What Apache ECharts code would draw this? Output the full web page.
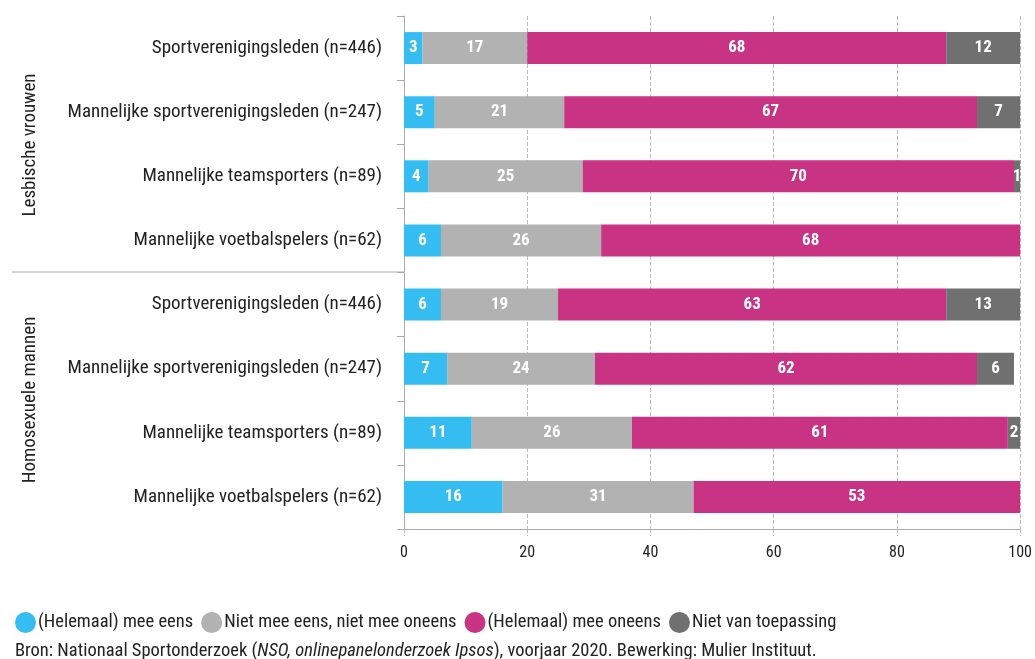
<!DOCTYPE html>
<html>
<head>
<meta charset="utf-8">
<script src="https://cdn.jsdelivr.net/npm/echarts@6/dist/echarts.min.js"></script>
<style>
  html, body { margin: 0; padding: 0; background: #fff; }
  #chart { width: 1035px; height: 659px; }
</style>
</head>
<body>
<div id="chart"></div>
<script>
// rows top to bottom: first four = Lesbische vrouwen, last four = Homosexuele mannen
var categories = [
  'Sportverenigingsleden (n=446)',
  'Mannelijke sportverenigingsleden (n=247)',
  'Mannelijke teamsporters (n=89)',
  'Mannelijke voetbalspelers (n=62)',
  'Sportverenigingsleden (n=446)',
  'Mannelijke sportverenigingsleden (n=247)',
  'Mannelijke teamsporters (n=89)',
  'Mannelijke voetbalspelers (n=62)'
];
var meeEens = [3, 5, 4, 6, 6, 7, 11, 16];
var neutraal = [17, 21, 25, 26, 19, 24, 26, 31];
var meeOneens = [68, 67, 70, 68, 63, 62, 61, 53];
var nietVanToepassing = [12, 7, 1, 0, 13, 6, 2, 0];
var xTicks = [0, 20, 40, 60, 80, 100];

var font = '"Roboto Condensed", "Liberation Sans Narrow", "DejaVu Sans Condensed", Roboto, sans-serif';
var textColor = '#222';

var chartDom = document.getElementById('chart');
var myChart = echarts.init(chartDom);

// unique y values so the repeated labels stay separate rows
var rowKeys = categories.map(function (c, i) { return i + '|' + c; });

function makeSeries(name, data, color) {
  return {
    name: name,
    type: 'bar',
    stack: 'total',
    barWidth: 32,
    itemStyle: { color: color },
    label: {
      show: true,
      color: '#fff',
      fontFamily: font,
      fontWeight: 'bold',
      fontSize: 17,
      formatter: function (p) { return p.value > 0 ? p.value : ''; }
    },
    data: data
  };
}

var option = {
  animation: false,
  textStyle: { fontFamily: font },
  grid: { left: 404, right: 14, top: 16, bottom: 130 },
  legend: {
    left: 10,
    top: 607,
    icon: 'circle',
    itemWidth: 21,
    itemHeight: 21,
    itemGap: 8,
    selectedMode: false,
    textStyle: { fontFamily: font, fontSize: 18.5, color: textColor, padding: [0, 0, 0, -3] }
  },
  title: {
    left: 10,
    top: 637,
    text: '{n|Bron: Nationaal Sportonderzoek (}{i|NSO, onlinepanelonderzoek Ipsos}{n|), voorjaar 2020. Bewerking: Mulier Instituut.}',
    textStyle: {
      fontWeight: 'normal',
      rich: {
        n: { fontFamily: font, fontSize: 18.5, fontWeight: 'normal', color: textColor },
        i: { fontFamily: font, fontSize: 18.5, fontWeight: 'normal', color: textColor, fontStyle: 'italic' }
      }
    }
  },
  xAxis: {
    type: 'value',
    min: 0,
    max: 100,
    interval: 20,
    axisLine: { show: true, lineStyle: { color: '#aaa' } },
    axisTick: { show: true, length: 7, lineStyle: { color: '#bbb', type: 'dashed' } },
    axisLabel: {
      fontFamily: font, fontSize: 16, color: textColor, margin: 16,
      formatter: function (v) { return xTicks.indexOf(v) >= 0 ? v : ''; }
    },
    splitLine: { show: true, lineStyle: { color: '#bbb', type: 'dashed' } }
  },
  yAxis: {
    type: 'category',
    inverse: true,
    data: rowKeys,
    axisLine: { show: true, lineStyle: { color: '#aaa' } },
    axisTick: { show: true, length: 7, lineStyle: { color: '#aaa' } },
    axisLabel: {
      fontFamily: font, fontSize: 19, color: textColor, margin: 22,
      formatter: function (v) { return v.split('|')[1]; }
    }
  },
  graphic: [
    {
      type: 'line',
      shape: { x1: 12, y1: 272, x2: 404, y2: 272 },
      style: { stroke: '#aaa', lineWidth: 1 }
    },
    {
      type: 'text',
      x: 30, y: 145, rotation: Math.PI / 2,
      style: { text: 'Lesbische vrouwen', font: '19px ' + font, fill: textColor, align: 'center', verticalAlign: 'middle' }
    },
    {
      type: 'text',
      x: 30, y: 400, rotation: Math.PI / 2,
      style: { text: 'Homosexuele mannen', font: '19px ' + font, fill: textColor, align: 'center', verticalAlign: 'middle' }
    }
  ],
  series: [
    makeSeries('(Helemaal) mee eens', meeEens, '#35bdf2'),
    makeSeries('Niet mee eens, niet mee oneens', neutraal, '#b2b2b2'),
    makeSeries('(Helemaal) mee oneens', meeOneens, '#c93384'),
    makeSeries('Niet van toepassing', nietVanToepassing, '#707070')
  ]
};

myChart.setOption(option);
</script>
</body>
</html>
